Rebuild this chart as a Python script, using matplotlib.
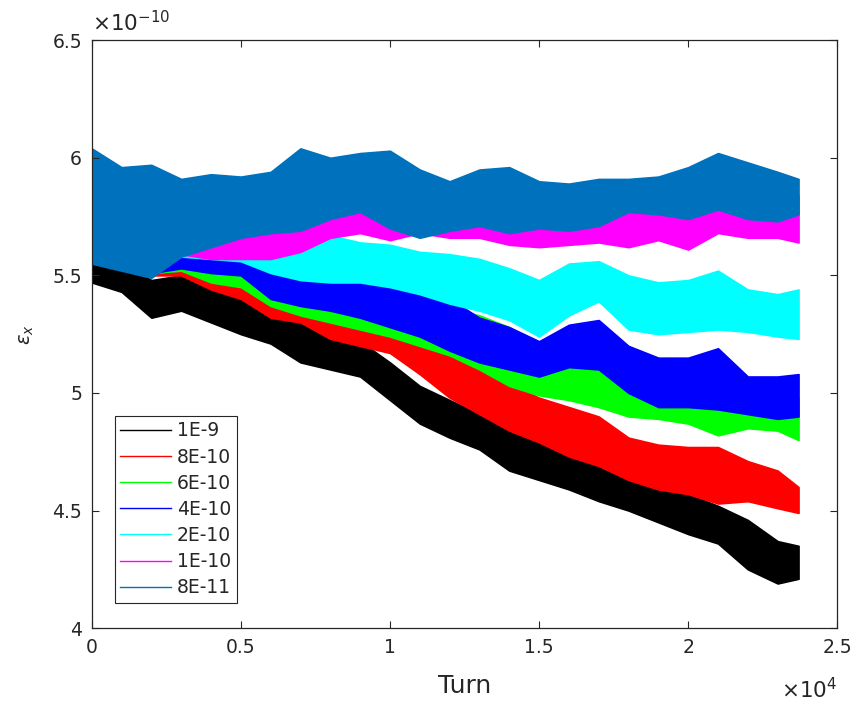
import matplotlib
matplotlib.use('Agg')
import matplotlib.pyplot as plt

# turn number of each sampled point
turn = [0, 1000, 2000, 3000, 4000, 5000, 6000, 7000, 8000, 9000, 10000, 11000,
        12000, 13000, 14000, 15000, 16000, 17000, 18000, 19000, 20000, 21000,
        22000, 23000, 23700]

# envelope (lower / upper edge) of each oscillating emittance trace, in 1e-10
lo_1e9 = [5.47, 5.43, 5.32, 5.35, 5.30, 5.25, 5.21, 5.13, 5.10, 5.07, 4.97, 4.87,
          4.81, 4.76, 4.67, 4.63, 4.59, 4.54, 4.50, 4.45, 4.40, 4.36, 4.25, 4.19, 4.21]
up_1e9 = [5.60, 5.56, 5.48, 5.50, 5.45, 5.41, 5.35, 5.30, 5.26, 5.22, 5.13, 5.03,
          4.97, 4.91, 4.84, 4.79, 4.74, 4.69, 4.64, 4.59, 4.57, 4.52, 4.46, 4.37, 4.35]

lo_8e10 = [5.56, 5.53, 5.50, 5.50, 5.44, 5.40, 5.32, 5.30, 5.23, 5.20, 5.17, 5.08,
           4.98, 4.91, 4.84, 4.79, 4.73, 4.69, 4.63, 4.59, 4.57, 4.53, 4.54, 4.51, 4.49]
up_8e10 = [5.80, 5.75, 5.65, 5.53, 5.49, 5.47, 5.40, 5.36, 5.33, 5.32, 5.28, 5.25,
           5.17, 5.13, 5.04, 4.98, 4.94, 4.90, 4.81, 4.78, 4.77, 4.77, 4.71, 4.67, 4.60]

lo_6e10 = [5.57, 5.54, 5.51, 5.52, 5.47, 5.45, 5.37, 5.33, 5.30, 5.27, 5.24, 5.20,
           5.16, 5.10, 5.03, 4.99, 4.97, 4.94, 4.90, 4.89, 4.87, 4.82, 4.85, 4.84, 4.80]
up_6e10 = [5.85, 5.80, 5.72, 5.65, 5.62, 5.60, 5.55, 5.52, 5.50, 5.46, 5.43, 5.40,
           5.36, 5.33, 5.28, 5.20, 5.24, 5.22, 5.15, 5.10, 5.08, 5.04, 5.02, 5.00, 4.98]

lo_4e10 = [5.57, 5.54, 5.51, 5.53, 5.51, 5.50, 5.40, 5.37, 5.35, 5.32, 5.28, 5.24,
           5.18, 5.13, 5.10, 5.07, 5.11, 5.10, 5.00, 4.94, 4.94, 4.93, 4.91, 4.89, 4.90]
up_4e10 = [5.90, 5.85, 5.80, 5.64, 5.62, 5.60, 5.55, 5.52, 5.50, 5.50, 5.47, 5.44,
           5.40, 5.32, 5.28, 5.22, 5.29, 5.31, 5.20, 5.15, 5.15, 5.19, 5.07, 5.07, 5.08]

lo_2e10 = [5.58, 5.55, 5.52, 5.58, 5.57, 5.56, 5.51, 5.48, 5.47, 5.47, 5.45, 5.42,
           5.38, 5.35, 5.31, 5.24, 5.33, 5.39, 5.27, 5.25, 5.26, 5.27, 5.26, 5.24, 5.23]
up_2e10 = [5.90, 5.90, 5.88, 5.75, 5.70, 5.68, 5.65, 5.64, 5.67, 5.64, 5.63, 5.60,
           5.59, 5.57, 5.53, 5.48, 5.55, 5.56, 5.50, 5.47, 5.48, 5.52, 5.44, 5.42, 5.44]

lo_1e10 = [5.58, 5.56, 5.54, 5.59, 5.57, 5.57, 5.57, 5.60, 5.66, 5.68, 5.65, 5.68,
           5.66, 5.66, 5.63, 5.62, 5.63, 5.64, 5.62, 5.65, 5.61, 5.68, 5.66, 5.66, 5.64]
up_1e10 = [5.98, 5.93, 5.93, 5.90, 5.85, 5.82, 5.80, 5.80, 5.85, 5.88, 5.85, 5.82,
           5.84, 5.85, 5.83, 5.80, 5.82, 5.86, 5.84, 5.84, 5.84, 5.88, 5.86, 5.84, 5.84]

lo_8e11 = [5.55, 5.52, 5.49, 5.58, 5.62, 5.66, 5.68, 5.69, 5.74, 5.77, 5.70, 5.66,
           5.69, 5.71, 5.68, 5.70, 5.69, 5.71, 5.77, 5.76, 5.74, 5.78, 5.74, 5.73, 5.76]
up_8e11 = [6.04, 5.96, 5.97, 5.91, 5.93, 5.92, 5.94, 6.04, 6.00, 6.02, 6.03, 5.95,
           5.90, 5.95, 5.96, 5.90, 5.89, 5.91, 5.91, 5.92, 5.96, 6.02, 5.98, 5.94, 5.91]

labels = ['1E-9', '8E-10', '6E-10', '4E-10', '2E-10', '1E-10', '8E-11']
colors = ['#000000', '#FF0000', '#00FF00', '#0000FF', '#00FFFF', '#FF00FF', '#0072BD']
lowers = [lo_1e9, lo_8e10, lo_6e10, lo_4e10, lo_2e10, lo_1e10, lo_8e11]
uppers = [up_1e9, up_8e10, up_6e10, up_4e10, up_2e10, up_1e10, up_8e11]

axis_col = '#262626'
plt.rcParams['font.family'] = 'DejaVu Sans'

fig = plt.figure(figsize=(8.57, 7.05), dpi=100)
ax = fig.add_axes([0.107, 0.109, 0.870, 0.834])

handles = []
for lo, up, c, lab in zip(lowers, uppers, colors, labels):
    ax.fill_between(turn, lo, up, color=c, linewidth=1.2, edgecolor=c)
    h, = ax.plot([], [], color=c, linewidth=1.0, label=lab)
    handles.append(h)

ax.set_xlim(0, 25000)
ax.set_ylim(4, 6.5)
ax.set_xticks([0, 5000, 10000, 15000, 20000, 25000])
ax.set_xticklabels(['0', '0.5', '1', '1.5', '2', '2.5'])
ax.set_yticks([4, 4.5, 5, 5.5, 6, 6.5])
ax.set_yticklabels(['4', '4.5', '5', '5.5', '6', '6.5'])
ax.tick_params(direction='in', top=True, right=True, length=5, width=0.8,
               colors=axis_col, labelsize=13.5, pad=7)
for s in ax.spines.values():
    s.set_color(axis_col)
    s.set_linewidth(0.9)

ax.set_xlabel('Turn', fontsize=18, color=axis_col, labelpad=12)
ax.set_ylabel(r'$\epsilon_x$', fontsize=14, color=axis_col, labelpad=12)

ax.text(0.0, 1.008, r'$\times\mathregular{10^{-10}}$', transform=ax.transAxes,
        fontsize=15.5, color=axis_col, ha='left', va='bottom')
ax.text(1.0, -0.083, r'$\times\mathregular{10^{4}}$', transform=ax.transAxes,
        fontsize=15.5, color=axis_col, ha='right', va='top')

leg = ax.legend(handles=handles, loc='lower left', bbox_to_anchor=(0.031, 0.043),
                fontsize=13.5, handlelength=2.7, handletextpad=0.3, labelspacing=0.38,
                borderpad=0.3, borderaxespad=0, fancybox=False, framealpha=1)
leg.get_frame().set_edgecolor(axis_col)
leg.get_frame().set_linewidth(0.8)
for t in leg.get_texts():
    t.set_color(axis_col)

fig.savefig('out.png', dpi=100)
